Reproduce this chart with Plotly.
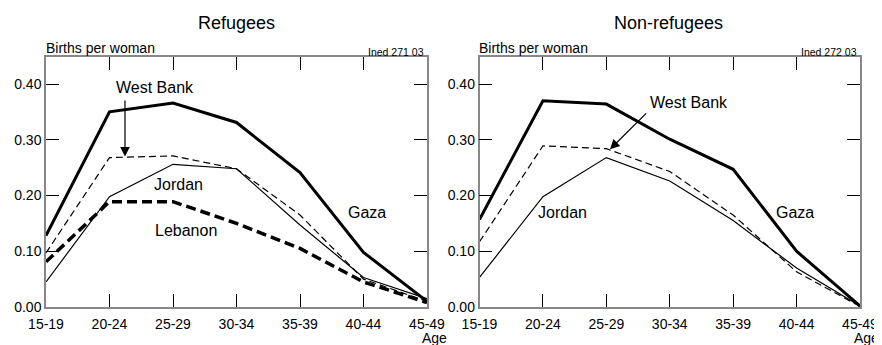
import plotly.graph_objects as go

ages = ["15-19", "20-24", "25-29", "30-34", "35-39", "40-44", "45-49"]
y_ticks = [0.0, 0.1, 0.2, 0.3, 0.4]

# Refugees
ref_gaza = [0.128, 0.350, 0.366, 0.331, 0.241, 0.098, 0.010]
ref_westbank = [0.097, 0.268, 0.271, 0.248, 0.165, 0.050, 0.010]
ref_jordan = [0.045, 0.198, 0.256, 0.248, 0.147, 0.053, 0.015]
ref_lebanon = [0.081, 0.189, 0.189, 0.150, 0.105, 0.045, 0.008]

# Non-refugees
non_gaza = [0.157, 0.370, 0.364, 0.301, 0.247, 0.100, 0.002]
non_westbank = [0.117, 0.289, 0.284, 0.243, 0.165, 0.063, 0.001]
non_jordan = [0.053, 0.198, 0.268, 0.226, 0.155, 0.070, 0.002]

W, H = 882, 345
OFF = 8  # page body margin
FONT = "Liberation Sans, Arial, sans-serif"
x = list(range(len(ages)))

def px(v):
    return (v - OFF) / W

def py(v):
    return 1 - (v - OFF) / H

fig = go.Figure()

def add(xa, ya, vals, width, dash):
    fig.add_trace(go.Scatter(x=x, y=vals, mode="lines", xaxis=xa, yaxis=ya,
                             line=dict(color="black", width=width, dash=dash),
                             showlegend=False, hoverinfo="skip"))

add("x", "y", ref_gaza, 3, "solid")
add("x", "y", ref_westbank, 1.2, "7px,4px")
add("x", "y", ref_jordan, 1.2, "solid")
add("x", "y", ref_lebanon, 3.5, "10px,5px")
add("x2", "y2", non_gaza, 3, "solid")
add("x2", "y2", non_westbank, 1.2, "7px,4px")
add("x2", "y2", non_jordan, 1.2, "solid")

top_px, bot_px = 57, 307
ydom = [py(bot_px), py(top_px)]
ymax = 0.4 * (bot_px - top_px) / (bot_px - 84)

xcommon = dict(range=[0, 6], tickvals=x, ticktext=ages, ticks="inside", ticklen=13,
               tickcolor="black", tickwidth=1, showline=True, linecolor="#888888",
               linewidth=1.5, mirror="ticks", showgrid=False, zeroline=False,
               automargin=False, ticklabelstandoff=3,
               tickfont=dict(family=FONT, size=14, color="black"))
ycommon = dict(range=[0, ymax], tickvals=y_ticks, tickformat=".2f", ticks="inside",
               ticklen=13, tickcolor="black", tickwidth=1, showline=True,
               linecolor="#888888", linewidth=1.5, mirror="ticks", showgrid=False,
               zeroline=False, ticklabelstandoff=0, automargin=False,
               tickfont=dict(family=FONT, size=14, color="black"))

fig.update_layout(
    width=W, height=H, margin=dict(l=0, r=0, t=0, b=0, autoexpand=False),
    paper_bgcolor="white", plot_bgcolor="white",
    font=dict(family=FONT, color="black"),
    xaxis=dict(domain=[px(46), px(427)], anchor="y", **xcommon),
    yaxis=dict(domain=ydom, anchor="x", **ycommon),
    xaxis2=dict(domain=[px(479.5), px(860)], anchor="y2", **xcommon),
    yaxis2=dict(domain=ydom, anchor="x2", **ycommon),
)

ann = []
def txt(xr, yr, xv, yv, t, size=16, xanchor="center"):
    ann.append(dict(xref=xr, yref=yr, x=xv, y=yv, text=t, showarrow=False,
                    xanchor=xanchor, yanchor="middle",
                    font=dict(family=FONT, size=size, color="black")))

# titles and labels (paper)
txt("paper", "paper", px(237), py(23), "Refugees", size=18)
txt("paper", "paper", px(668.7), py(23), "Non-refugees", size=18)
txt("paper", "paper", px(44), py(48), "Births per woman", size=14, xanchor="left")
txt("paper", "paper", px(477), py(48), "Births per woman", size=14, xanchor="left")
txt("paper", "paper", px(426), py(52), "Ined 271 03", size=10.5, xanchor="right")
txt("paper", "paper", px(859), py(52), "Ined 272 03", size=10.5, xanchor="right")
txt("paper", "paper", px(434.5), py(338), "Age", size=14)
txt("paper", "paper", px(866.5), py(338), "Age", size=14)

# series labels (data)
txt("x", "y", 1.717, 0.393, "West Bank")
txt("x", "y", 2.094, 0.219, "Jordan")
txt("x", "y", 2.205, 0.138, "Lebanon")
txt("x", "y", 5.055, 0.169, "Gaza")
txt("x2", "y2", 3.30, 0.366, "West Bank")
txt("x2", "y2", 1.31, 0.169, "Jordan")
txt("x2", "y2", 4.975, 0.169, "Gaza")

# arrows
ann.append(dict(xref="x", yref="y", axref="x", ayref="y", x=1.244, y=0.270,
                ax=1.244, ay=0.373, text="", showarrow=True, arrowhead=2,
                arrowsize=1.6, arrowwidth=1.2, arrowcolor="black"))
ann.append(dict(xref="x2", yref="y2", axref="x2", ayref="y2", x=2.058, y=0.283,
                ax=2.652, ay=0.350, text="", showarrow=True, arrowhead=2,
                arrowsize=1.6, arrowwidth=1.2, arrowcolor="black"))

fig.update_layout(annotations=ann)
fig.write_html("out.html")
